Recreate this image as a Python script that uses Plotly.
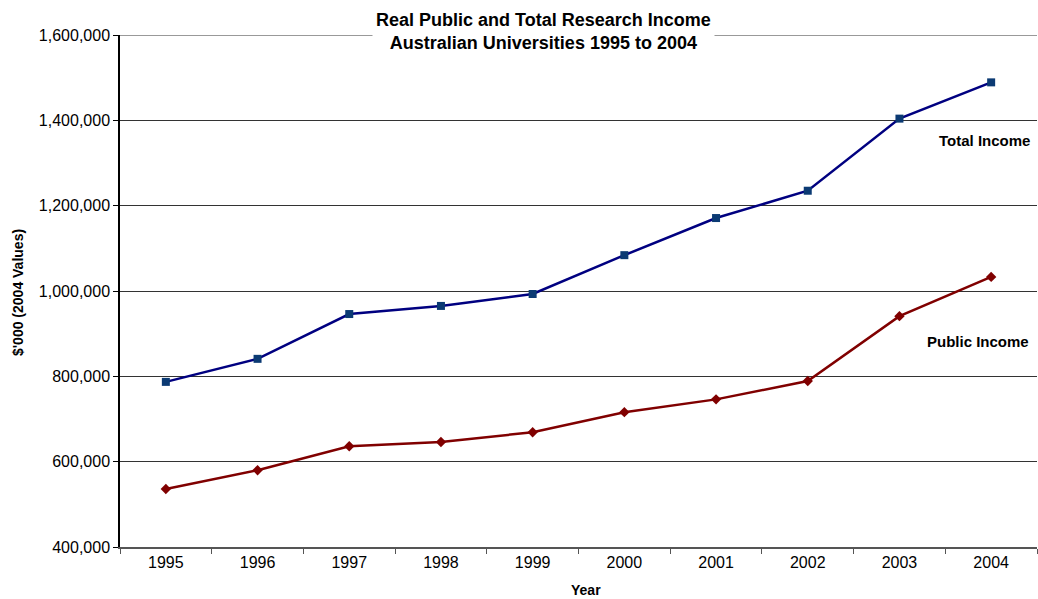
import plotly.graph_objects as go

years = ["1995", "1996", "1997", "1998", "1999", "2000", "2001", "2002", "2003", "2004"]
total_income = [787000, 841000, 946000, 965000, 993000, 1084000, 1171000, 1235000, 1404000, 1489000]
public_income = [536000, 580000, 636000, 646000, 669000, 716000, 746000, 789000, 941000, 1033000]
y_ticks = [400000, 600000, 800000, 1000000, 1200000, 1400000, 1600000]
y_tick_labels = ["400,000", "600,000", "800,000", "1,000,000", "1,200,000", "1,400,000", "1,600,000"]

FONT = "Arial"

fig = go.Figure()
fig.add_trace(go.Scatter(
    x=years, y=total_income, mode="lines+markers", name="Total Income",
    line=dict(color="#000080", width=2.5),
    marker=dict(symbol="square", size=8, color="#0b3a73", line=dict(width=0)),
))
fig.add_trace(go.Scatter(
    x=years, y=public_income, mode="lines+markers", name="Public Income",
    line=dict(color="#800000", width=2.5),
    marker=dict(symbol="diamond", size=8, color="#800000", line=dict(width=0)),
))

# top gridline (hidden under the title box in the middle)
fig.add_shape(type="line", xref="paper", yref="y", x0=0, x1=1,
              y0=y_ticks[-1], y1=y_ticks[-1], line=dict(color="#777777", width=1.5), layer="below")

fig.update_layout(
    width=1038, height=599,
    margin=dict(l=120, r=1, t=35, b=52),
    paper_bgcolor="white", plot_bgcolor="white",
    showlegend=False,
    font=dict(family=FONT, size=16, color="black"),
    xaxis=dict(
        type="category", range=[-0.5, 9.5],
        showgrid=False, showline=True, linecolor="#555555", linewidth=2,
        ticks="outside", tickson="boundaries", ticklen=5, tickcolor="#555555",
        tickfont=dict(family=FONT, size=16, color="black"),
        zeroline=False,
    ),
    yaxis=dict(
        range=[400000, 1600000], tickvals=y_ticks, ticktext=y_tick_labels,
        showgrid=True, gridcolor="#333333", gridwidth=1,
        showline=True, linecolor="black", linewidth=1.5,
        ticks="outside", ticklen=5, tickcolor="black",
        tickfont=dict(family=FONT, size=16, color="black"),
        zeroline=False,
    ),
    annotations=[
        dict(text="<b>Real Public and Total Research Income<br>Australian Universities 1995 to 2004</b>",
             xref="paper", yref="paper", x=(543 - 120) / 917, y=1 + (35 - 31) / 512,
             xanchor="center", yanchor="middle", showarrow=False, align="center",
             font=dict(family=FONT, size=18, color="black"), bgcolor="white", borderpad=3),
        dict(text="<b>$'000 (2004 Values)</b>", xref="paper", yref="paper",
             x=-(120 - 18) / 917, y=(547 - 293) / 512, textangle=-90,
             xanchor="center", yanchor="middle", showarrow=False,
             font=dict(family=FONT, size=14, color="black")),
        dict(text="<b>Year</b>", xref="paper", yref="paper",
             x=(586 - 120) / 917, y=-(590 - 547) / 512,
             xanchor="center", yanchor="middle", showarrow=False,
             font=dict(family=FONT, size=14, color="black")),
        dict(text="<b>Total Income</b>", xref="paper", yref="paper",
             x=(984 - 120) / 917, y=(547 - 140) / 512,
             xanchor="center", yanchor="middle", showarrow=False,
             font=dict(family=FONT, size=15, color="black")),
        dict(text="<b>Public Income</b>", xref="paper", yref="paper",
             x=(978 - 120) / 917, y=(547 - 341) / 512,
             xanchor="center", yanchor="middle", showarrow=False,
             font=dict(family=FONT, size=15, color="black")),
    ],
)

fig.write_html("out.html")
